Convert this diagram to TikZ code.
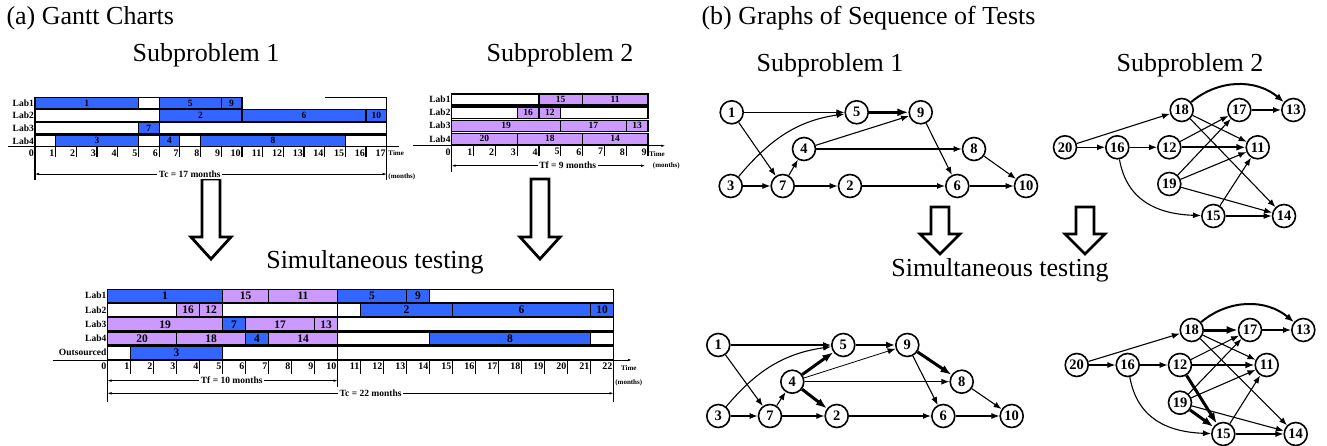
\documentclass[tikz,border=0pt]{standalone}
\usepackage{fontspec}
\setmainfont{Liberation Serif}
\usepackage{tikz}
\usetikzlibrary{arrows.meta,positioning,calc}

\definecolor{taskblue}{RGB}{51,102,255}
\definecolor{taskviolet}{RGB}{204,153,255}

\newcommand{\bigfont}{\fontsize{26}{30}\selectfont}
\newcommand{\barsize}{\fontsize{9.5}{10}\selectfont}
\newcommand{\gtask}[5]{\draw[bar, fill=#5] (#2,#1) rectangle node[barlbl] (\chart#4) {#4} (#3,#1+\barh);}
\newcommand{\gidle}[3]{\draw[bar, fill=white] (#2,#1) rectangle (#3,#1+\barh);}
\newcommand{\gticks}[3]{%
  \foreach \k in {1,...,#1} \draw[tick] (\k,#2) -- (\k,#2+#3);
  \foreach \k in {0,...,#1} \node[ticklbl] (\chart t\k) at (\k,#2) {\k};}
\newcommand{\bigarrow}[4]{%
  \draw[hollow] (#1-9,#2) -- (#1+9,#2) -- (#1+9,#3-#4) -- (#1+20,#3-#4) -- (#1,#3)
    -- (#1-20,#3-#4) -- (#1-9,#3-#4) -- cycle;}

\begin{document}
\begin{tikzpicture}[x=1pt, y=-1pt, >=Latex]
\tikzstyle{bar}=[draw, line width=1.2pt]
\tikzstyle{barlbl}=[font=\barsize\bfseries, inner sep=0pt]
\tikzstyle{lablbl}=[font=\fontsize{9.5}{10}\selectfont\bfseries, anchor=east, inner sep=1pt]
\tikzstyle{tick}=[line width=1.2pt]
\tikzstyle{ticklbl}=[font=\fontsize{10}{10}\selectfont\bfseries, anchor=north east, inner sep=1pt, yshift=-1.5pt]
\tikzstyle{axisline}=[line width=0.9pt]
\tikzstyle{dim}=[{Latex[length=4pt,width=2.5pt]}-{Latex[length=4pt,width=2.5pt]}, line width=0.6pt]
\tikzstyle{dimlbl}=[font=\fontsize{9.5}{10}\selectfont\bfseries, fill=white, inner sep=1.5pt]
\tikzstyle{unitlbl}=[font=\fontsize{7}{7}\selectfont\bfseries, anchor=west, inner sep=0.5pt]
\tikzstyle{hollow}=[draw, line width=2.8pt, fill=white, line join=miter]
\tikzstyle{test}=[circle, draw, line width=1.6pt, minimum size=23pt, inner sep=0pt, fill=white, font=\fontsize{14.5}{15}\selectfont\bfseries]
\tikzstyle{dep}=[-{Latex[length=8pt,width=6pt]}, line width=1.1pt]
\tikzstyle{semi}=[-{Latex[length=9pt,width=7pt]}, line width=2pt]
\tikzstyle{crit}=[-{Latex[length=11pt,width=8pt]}, line width=3pt]

\useasboundingbox (0,0) rectangle (1327,446);

% titles
\node[anchor=west, font=\bigfont] (ttla) at (3,18) {(a) Gantt Charts};
\node[font=\bigfont] (ttla1) at (206,55) {Subproblem 1};
\node[font=\bigfont] (ttla2) at (560,55) {Subproblem 2};
\node[font=\bigfont] (ttla3) at (375,262) {Simultaneous testing};
\node[anchor=west, font=\bigfont] (ttlb) at (698,18) {(b) Graphs of Sequence of Tests};
\node[font=\bigfont] (ttlb1) at (830,65) {Subproblem 1};
\node[font=\bigfont] (ttlb2) at (1190,65) {Subproblem 2};
\node[font=\bigfont] (ttlb3) at (1000,270) {Simultaneous testing};

\bigarrow{211}{179}{259}{22}
\bigarrow{540}{179}{259}{22}
\bigarrow{940}{207}{254}{20}
\bigarrow{1085}{207}{254}{20}

% Gantt chart, subproblem 1
\begin{scope}[shift={(35,97.3)}, x=20.69pt, y=-12.6pt]
\def\chart{ga}\def\barh{0.9}
\foreach \r in {1,...,4} \node[lablbl] (galab\r) at (0,\r-0.55) {Lab\r};
\gtask{0}{0}{5}{1}{taskblue}
\gidle{0}{5}{6}
\gtask{0}{6}{9}{5}{taskblue}
\gtask{0}{9}{10}{9}{taskblue}
\draw[bar] (14,0) -- (17,0);
\gidle{1}{0}{6}
\gtask{1}{6}{10}{2}{taskblue}
\gtask{1}{10}{16}{6}{taskblue}
\gtask{1}{16}{17}{10}{taskblue}
\gidle{2}{0}{5}
\gtask{2}{5}{6}{7}{taskblue}
\gidle{2}{6}{17}
\gidle{3}{0}{1}
\gtask{3}{1}{5}{3}{taskblue}
\gidle{3}{5}{6}
\gtask{3}{6}{7}{4}{taskblue}
\gidle{3}{7}{8}
\gtask{3}{8}{15}{8}{taskblue}
\gidle{3}{15}{17}
\draw[axisline] (-1.3,3.93) -- (17.6,3.93);
\gticks{17}{3.93}{0.8}
\draw[bar] (0,0) -- (0,6.56);
\draw[bar] (17,0) -- (17,6.56);
\draw[dim] (0,6.09) -- node[dimlbl, pos=0.44] (gatc) {Tc = 17 months} (17,6.09);
\node[unitlbl] (gatime) at (17.05,4.45) {Time};
\node[unitlbl] (gaunit) at (17.05,6.3) {(months)};
\end{scope}

% Gantt chart, subproblem 2
\begin{scope}[shift={(451.7,94)}, x=21.8pt, y=-13.1pt]
\def\chart{gb}\def\barh{0.84}
\foreach \r in {1,...,4} \node[lablbl] (gblab\r) at (0,\r-0.58) {Lab\r};
\gidle{0}{0}{4}
\gtask{0}{4}{6}{15}{taskviolet}
\gtask{0}{6}{9}{11}{taskviolet}
\gidle{1}{0}{3}
\gtask{1}{3}{4}{16}{taskviolet}
\gtask{1}{4}{5}{12}{taskviolet}
\gidle{1}{5}{9}
\gtask{2}{0}{5}{19}{taskviolet}
\gtask{2}{5}{8}{17}{taskviolet}
\gtask{2}{8}{9}{13}{taskviolet}
\gtask{3}{0}{3}{20}{taskviolet}
\gtask{3}{3}{6}{18}{taskviolet}
\gtask{3}{6}{9}{14}{taskviolet}
\draw[axisline, -{Latex[length=4pt,width=2.5pt]}] (-1.78,3.95) -- (9.8,3.95);
\gticks{9}{3.95}{0.82}
\draw[bar] (0,0) -- (0,5.95);
\draw[dim] (0,5.47) -- node[dimlbl, pos=0.6] (gbtf) {Tf = 9 months} (8.87,5.47);
\node[unitlbl] (gbtime) at (9.03,4.58) {Time};
\node[unitlbl] (gbunit) at (9.2,5.47) {(months)};
\end{scope}

% Gantt chart, simultaneous testing
\begin{scope}[shift={(107.5,289.3)}, x=23pt, y=-14.25pt]
\def\chart{gc}\def\barh{0.91}
\renewcommand{\barsize}{\fontsize{11.5}{12}\selectfont}
\foreach \r in {1,...,4} \node[lablbl] (gclab\r) at (0,\r-0.55) {Lab\r};
\node[lablbl] (gclab5) at (0,4.45) {Outsourced};
\gtask{0}{0}{5}{1}{taskblue}
\gtask{0}{5}{7}{15}{taskviolet}
\gtask{0}{7}{10}{11}{taskviolet}
\gtask{0}{10}{13}{5}{taskblue}
\gtask{0}{13}{14}{9}{taskblue}
\gidle{0}{14}{22}
\gidle{1}{0}{3}
\gtask{1}{3}{4}{16}{taskviolet}
\gtask{1}{4}{5}{12}{taskviolet}
\gidle{1}{5}{10}
\gidle{1}{10}{11}
\gtask{1}{11}{15}{2}{taskblue}
\gtask{1}{15}{21}{6}{taskblue}
\gtask{1}{21}{22}{10}{taskblue}
\gtask{2}{0}{5}{19}{taskviolet}
\gtask{2}{5}{6}{7}{taskblue}
\gtask{2}{6}{9}{17}{taskviolet}
\gtask{2}{9}{10}{13}{taskviolet}
\gidle{2}{10}{22}
\gtask{3}{0}{3}{20}{taskviolet}
\gtask{3}{3}{6}{18}{taskviolet}
\gtask{3}{6}{7}{4}{taskblue}
\gtask{3}{7}{10}{14}{taskviolet}
\gidle{3}{10}{14}
\gtask{3}{14}{21}{8}{taskblue}
\gidle{3}{21}{22}
\gidle{4}{0}{1}
\gtask{4}{1}{5}{3}{taskblue}
\gidle{4}{5}{10}
\gidle{4}{10}{22}
\draw[axisline, -{Latex[length=4pt,width=2.5pt]}] (-2.37,4.96) -- (22.8,4.96);
\gticks{22}{4.96}{1}
\draw[bar] (0,0) -- (0,7.89);
\draw[bar] (10,0) -- (10,6.86);
\draw[bar] (22,0) -- (22,7.89);
\draw[dim] (0,6.41) -- node[dimlbl, pos=0.54] (gctf) {Tf = 10 months} (10,6.41);
\draw[dim] (0,7.3) -- node[dimlbl, pos=0.52] (gctc) {Tc = 22 months} (22,7.3);
\node[unitlbl] (gctime) at (22.3,5.52) {Time};
\node[unitlbl] (gcunit) at (22.05,6.55) {(months)};
\end{scope}

% graph, subproblem 1
\node[test] (t1) at (731.7,112.3) {1};
\node[test] (t5) at (856.7,112.3) {5};
\node[test] (t9) at (920.7,112.3) {9};
\node[test] (t4) at (804,149) {4};
\node[test] (t8) at (974,149) {8};
\node[test] (t3) at (730.7,186) {3};
\node[test] (t7) at (782.7,186) {7};
\node[test] (t2) at (850,186) {2};
\node[test] (t6) at (957.3,186) {6};
\node[test] (t10) at (1026,186) {10};
\draw[dep] (t1) -- (t5);
\draw[crit] (t5) -- (t9);
\draw[dep] (t1) -- (t7);
\draw[dep] (t3) to[out=50, in=188] (t5);
\draw[dep] (t3) -- (t7);
\draw[dep] (t7) -- (t4);
\draw[dep] (t4) -- (t9);
\draw[dep] (t4) -- (t8);
\draw[dep] (t7) -- (t2);
\draw[dep] (t2) -- (t6);
\draw[dep] (t9) -- (t6);
\draw[dep] (t8) -- (t10);
\draw[dep] (t6) -- (t10);

% graph, subproblem 2
\node[test] (t18) at (1181.7,110) {18};
\node[test] (t17) at (1239.3,110) {17};
\node[test] (t13) at (1293.3,110) {13};
\node[test] (t20) at (1065,147.3) {20};
\node[test] (t16) at (1117.3,147.3) {16};
\node[test] (t12) at (1169.3,147.3) {12};
\node[test] (t11) at (1257.7,147.3) {11};
\node[test] (t19) at (1169.3,184) {19};
\node[test] (t15) at (1213.3,216) {15};
\node[test] (t14) at (1284,216) {14};
\draw[semi] (t18) to[out=40, in=140] (t13);
\draw[dep] (t17) -- (t13);
\draw[dep] (t20) -- (t18);
\draw[dep] (t20) -- (t16);
\draw[dep] (t16) -- (t12);
\draw[dep] (t12) -- (t17);
\draw[semi] (t12) -- (t11);
\draw[dep] (t18) -- (t11);
\draw[dep] (t18) -- (t14);
\draw[dep] (t19) -- (t17);
\draw[dep] (t19) -- (t11);
\draw[dep] (t19) -- (t14);
\draw[dep] (t16) to[out=-80, in=178, looseness=1.1] (t15);
\draw[dep] (t15) -- (t11);
\draw[dep] (t15) -- (t14);

% graph, simultaneous testing
\node[test] (s1) at (718.3,345) {1};
\node[test] (s5) at (843.3,345) {5};
\node[test] (s9) at (907.3,345) {9};
\node[test] (s4) at (792.3,381.7) {4};
\node[test] (s8) at (961.7,381.7) {8};
\node[test] (s3) at (718.3,416) {3};
\node[test] (s7) at (770,416) {7};
\node[test] (s2) at (836.7,416) {2};
\node[test] (s6) at (943.3,416) {6};
\node[test] (s10) at (1011.7,416) {10};
\draw[dep] (s1) -- (s5);
\draw[semi] (s5) -- (s9);
\draw[dep] (s1) -- (s7);
\draw[dep] (s3) to[out=50, in=188] (s5);
\draw[dep] (s3) -- (s7);
\draw[dep] (s7) -- (s4);
\draw[dep] (s7) -- (s2);
\draw[crit] (s4) -- (s5);
\draw[dep, line width=0.8pt] (s4) -- (s9);
\draw[dep] (s4) -- (s8);
\draw[crit] (s4) -- (s2);
\draw[crit] (s9) -- (s8);
\draw[dep] (s9) -- (s6);
\draw[dep] (s8) -- (s10);
\draw[dep] (s2) -- (s6);
\draw[dep] (s6) -- (s10);

\node[test] (s18) at (1191.7,330) {18};
\node[test] (s17) at (1250,330) {17};
\node[test] (s13) at (1303.3,330) {13};
\node[test] (s20) at (1076.7,365) {20};
\node[test] (s16) at (1127.7,365) {16};
\node[test] (s12) at (1180,365) {12};
\node[test] (s11) at (1266.7,365) {11};
\node[test] (s19) at (1180,402.7) {19};
\node[test] (s15) at (1223.3,434) {15};
\node[test] (s14) at (1295.7,434) {14};
\draw[semi] (s18) to[out=40, in=140] (s13);
\draw[crit] (s18) -- (s17);
\draw[dep] (s17) -- (s13);
\draw[dep] (s20) -- (s18);
\draw[dep] (s20) -- (s16);
\draw[dep] (s16) -- (s12);
\draw[dep] (s12) -- (s17);
\draw[semi] (s12) -- (s11);
\draw[crit] (s12) -- (s15);
\draw[dep] (s18) -- (s11);
\draw[dep] (s18) -- (s14);
\draw[dep] (s19) -- (s17);
\draw[dep] (s19) -- (s11);
\draw[crit] (s19) -- (s15);
\draw[dep] (s19) -- (s14);
\draw[dep] (s16) to[out=-80, in=178, looseness=1.1] (s15);
\draw[dep] (s15) -- (s11);
\draw[dep] (s15) -- (s14);
\end{tikzpicture}
\end{document}
